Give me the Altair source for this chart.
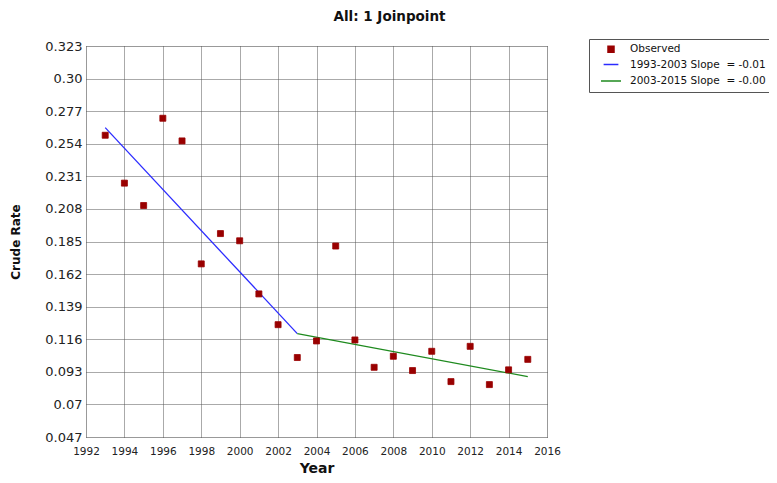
import altair as alt
import pandas as pd

years = list(range(1993, 2016))
observed = [0.260, 0.2262, 0.2104, 0.272, 0.256, 0.1692, 0.1906, 0.1855, 0.148,
            0.1263, 0.1031, 0.1148, 0.1818, 0.1155, 0.0962, 0.104, 0.0939, 0.1075,
            0.0861, 0.111, 0.084, 0.0944, 0.1018]

seg1_years = [1993, 2003]
seg1_values = [0.2654, 0.120]
seg2_years = [2003, 2015]
seg2_values = [0.120, 0.0896]

series_names = ["Observed", "1993-2003 Slope\u00a0 = -0.01", "2003-2015 Slope\u00a0 = -0.00"]
series_colors = ["#990000", "#2b2bff", "#1e8a1e"]
series_shapes = ["square", "stroke", "stroke"]
series_sizes = [36, 400, 400]

y_ticks = [round(0.047 + 0.023 * i, 3) for i in range(13)]
x_ticks = list(range(1992, 2017, 2))

obs_df = pd.DataFrame({"year": years, "value": observed, "series": series_names[0]})
line_df = pd.concat([
    pd.DataFrame({"year": seg1_years, "value": seg1_values, "series": series_names[1]}),
    pd.DataFrame({"year": seg2_years, "value": seg2_values, "series": series_names[2]}),
])

FONT = "DejaVu Sans"

legend = alt.Legend(
    title=None, orient="none", legendX=503, legendY=-7,
    padding=5, symbolOffset=6, labelOffset=8, rowPadding=-1,
    labelFont=FONT, labelFontSize=10.5, labelColor="#111",
    strokeColor="#555", fillColor="white", cornerRadius=0,
    symbolStrokeWidth=1.5,
)

fill_scale = alt.Scale(domain=series_names, range=series_colors)
stroke_scale = alt.Scale(domain=series_names, range=series_colors)
shape_scale = alt.Scale(domain=series_names, range=series_shapes)
size_scale = alt.Scale(domain=series_names, range=series_sizes)

x_enc = alt.X("year:Q", scale=alt.Scale(domain=[1992, 2016], nice=False, zero=False),
              axis=alt.Axis(values=x_ticks, format="d", title="Year",
                            labelFont=FONT, labelFontSize=10.5, labelColor="#222",
                            labelPadding=9, ticks=False, domain=False,
                            labelOverlap=False, labelFlush=False,
                            grid=True, gridDash=[1, 1], gridColor="#555", gridWidth=1,
                            titleFont=FONT, titleFontSize=14, titleFontWeight="bold",
                            titleColor="#111", titleY=38, titleBaseline="bottom"))
y_enc = alt.Y("value:Q", scale=alt.Scale(domain=[0.047, 0.323], nice=False, zero=False),
              axis=alt.Axis(values=y_ticks,
                            labelExpr="abs(datum.value-0.3)<1e-9 ? '0.30' : format(datum.value, '.3~f')",
                            labelFont=FONT, labelFontSize=13, labelColor="#222",
                            labelPadding=4, ticks=False, domain=False,
                            labelOverlap=False, labelFlush=False,
                            grid=True, gridDash=[1, 1], gridColor="#555", gridWidth=1,
                            title="Crude Rate", titleFont=FONT, titleFontSize=12,
                            titleFontWeight="bold", titleColor="#111",
                            titleX=-64, titleAngle=-90))

lines = alt.Chart(line_df).mark_line(strokeWidth=1.3).encode(
    x=x_enc, y=y_enc,
    stroke=alt.Stroke("series:N", scale=stroke_scale, legend=legend),
)

points = alt.Chart(obs_df).mark_point(filled=True, opacity=1, strokeWidth=0.8).encode(
    x=x_enc, y=y_enc,
    fill=alt.Fill("series:N", scale=fill_scale, legend=legend),
    stroke=alt.Stroke("series:N", scale=stroke_scale, legend=legend),
    shape=alt.Shape("series:N", scale=shape_scale, legend=legend),
    size=alt.Size("series:N", scale=size_scale, legend=legend),
)

chart = alt.layer(lines, points).properties(
    width=461, height=391,
    autosize=alt.AutoSizeParams(type="none"),
    padding={"left": 78, "top": 38, "right": 222, "bottom": 38},
    title=alt.TitleParams("All: 1 Joinpoint", font=FONT, fontSize=13.5, fontWeight="bold",
                          color="#111", anchor="middle", dx=73, offset=15),
).configure_view(stroke="black", strokeWidth=1.5).configure(background="white")

chart.save("out.html", embed_options={"renderer": "svg", "actions": False})
